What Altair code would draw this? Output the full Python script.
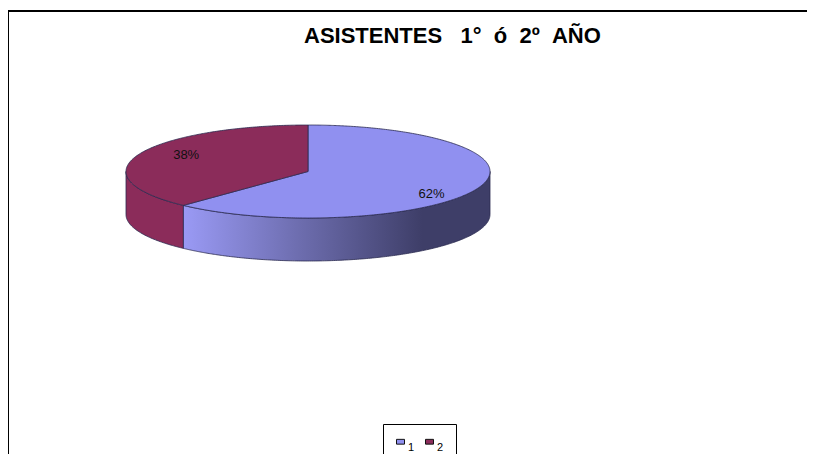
import altair as alt
import numpy as np
import pandas as pd

categories = ["1", "2"]
shares = [62, 38]
colors = ["#9090F0", "#8B2C5A"]
nb = "\u00a0"
title_text = f"ASISTENTES{nb*3}1\u00b0{nb*2}\u00f3{nb*2}2\u00ba{nb*2}A\u00d1O"
label_x_factor = [0.73, 0.72]
label_y_offset = [22, -17]

W, H = 799, 446
cx, cy, rx, ry, depth = 300, 163.5, 182, 46.5, 43

split = 2 * np.pi * shares[0] / sum(shares)
sx, sy = cx + rx * np.sin(split), cy - ry * np.cos(split)


def upper(x):
    return cy - ry * np.sqrt(np.clip(1 - ((x - cx) / rx) ** 2, 0, 1))


def lower(x):
    return cy + ry * np.sqrt(np.clip(1 - ((x - cx) / rx) ** 2, 0, 1))


def chord(x):
    return cy + (sy - cy) * (x - cx) / (sx - cx)


def grid(a, b, n=160):
    t = np.linspace(0, np.pi, n)
    return a + (b - a) * (1 - np.cos(t)) / 2


xs1a = grid(sx, cx, 60)
xs1b = grid(cx, cx + rx, 160)
top1 = pd.DataFrame({
    "x": np.r_[xs1a, xs1b],
    "y": np.r_[chord(xs1a), upper(xs1b)],
    "y2": np.r_[lower(xs1a), lower(xs1b)],
    "cat": categories[0],
})
xs2a = grid(cx - rx, sx, 60)
xs2b = grid(sx, cx, 100)
top2 = pd.DataFrame({
    "x": np.r_[xs2a, xs2b],
    "y": np.r_[upper(xs2a), upper(xs2b)],
    "y2": np.r_[lower(xs2a), chord(xs2b)],
    "cat": categories[1],
})
xw1 = grid(sx, cx + rx, 220)
wall1 = pd.DataFrame({"x": xw1, "y": lower(xw1), "y2": lower(xw1) + depth})
xw2 = grid(cx - rx, sx, 60)
wall2 = pd.DataFrame({"x": xw2, "y": lower(xw2), "y2": lower(xw2) + depth})

X = alt.X("x:Q", scale=alt.Scale(domain=[0, W], range=[0, W], nice=False, zero=False), axis=None)
Y = alt.Y("y:Q", scale=alt.Scale(domain=[0, H], range=[0, H], nice=False, zero=False), axis=None)
Y2 = alt.Y2("y2:Q")

outline = dict(stroke="#2a2a50", strokeWidth=1, strokeOpacity=0.8)

wall_1 = alt.Chart(wall1).mark_area(
    color=alt.Gradient(
        gradient="linear", x1=0, x2=1, y1=0, y2=0,
        stops=[
            alt.GradientStop(color="#9A9AF5", offset=0),
            alt.GradientStop(color="#6E6EB0", offset=0.37),
            alt.GradientStop(color="#3E3E68", offset=0.78),
            alt.GradientStop(color="#3E3E68", offset=1),
        ],
    ),
    **outline,
).encode(x=X, y=Y, y2=Y2)

wall_2 = alt.Chart(wall2).mark_area(
    color="#8B2C5A", **outline
).encode(x=X, y=Y, y2=Y2)

color = alt.Color(
    "cat:N",
    scale=alt.Scale(domain=categories, range=colors),
    legend=alt.Legend(
        title=None, orient="none", legendX=375, legendY=416, direction="horizontal",
        strokeColor="black", fillColor="white", padding=12,
        symbolType="M-1,-0.6H1V0.6H-1Z", symbolSize=64, symbolStrokeColor="#111", symbolStrokeWidth=1,
        labelFont="Liberation Sans", labelFontSize=11, labelColor="black",
        labelOffset=2, columnPadding=8, labelBaseline="top",
    ),
)

top = alt.Chart(pd.concat([top1, top2])).mark_area(**outline).encode(
    x=X, y=Y, y2=Y2, color=color, detail="cat:N"
)

mids = [split / 2, split + (2 * np.pi - split) / 2]
labels = pd.DataFrame({
    "x": [cx + f * rx * np.sin(m) for f, m in zip(label_x_factor, mids)],
    "y": [cy + o for o in label_y_offset],
    "t": [f"{s}%" for s in shares],
})
label_layer = alt.Chart(labels).mark_text(
    font="Liberation Sans", fontSize=13, color="#111"
).encode(x=X, y=Y, text="t:N")

frame_top = alt.Chart(pd.DataFrame({"k": [0]})).mark_rule(color="black", strokeWidth=2).encode(
    x=alt.value(0), x2=alt.value(W), y=alt.value(3)
)
frame_left = alt.Chart(pd.DataFrame({"k": [0]})).mark_rule(color="black", strokeWidth=2).encode(
    x=alt.value(0), y=alt.value(3), y2=alt.value(H)
)

chart = (
    alt.layer(frame_top, frame_left, wall_2, wall_1, top, label_layer)
    .properties(
        width=W, height=H, padding=0,
        autosize=alt.AutoSizeParams(type="none"),
        title=alt.TitleParams(
            title_text, font="Liberation Sans", fontSize=22, fontWeight="bold",
            color="black", anchor="start", offset=-40, dx=297, dy=0,
        ),
    )
    .configure_view(stroke=None)
)
chart.save("out.html", embed_options={"renderer": "svg", "actions": False})
